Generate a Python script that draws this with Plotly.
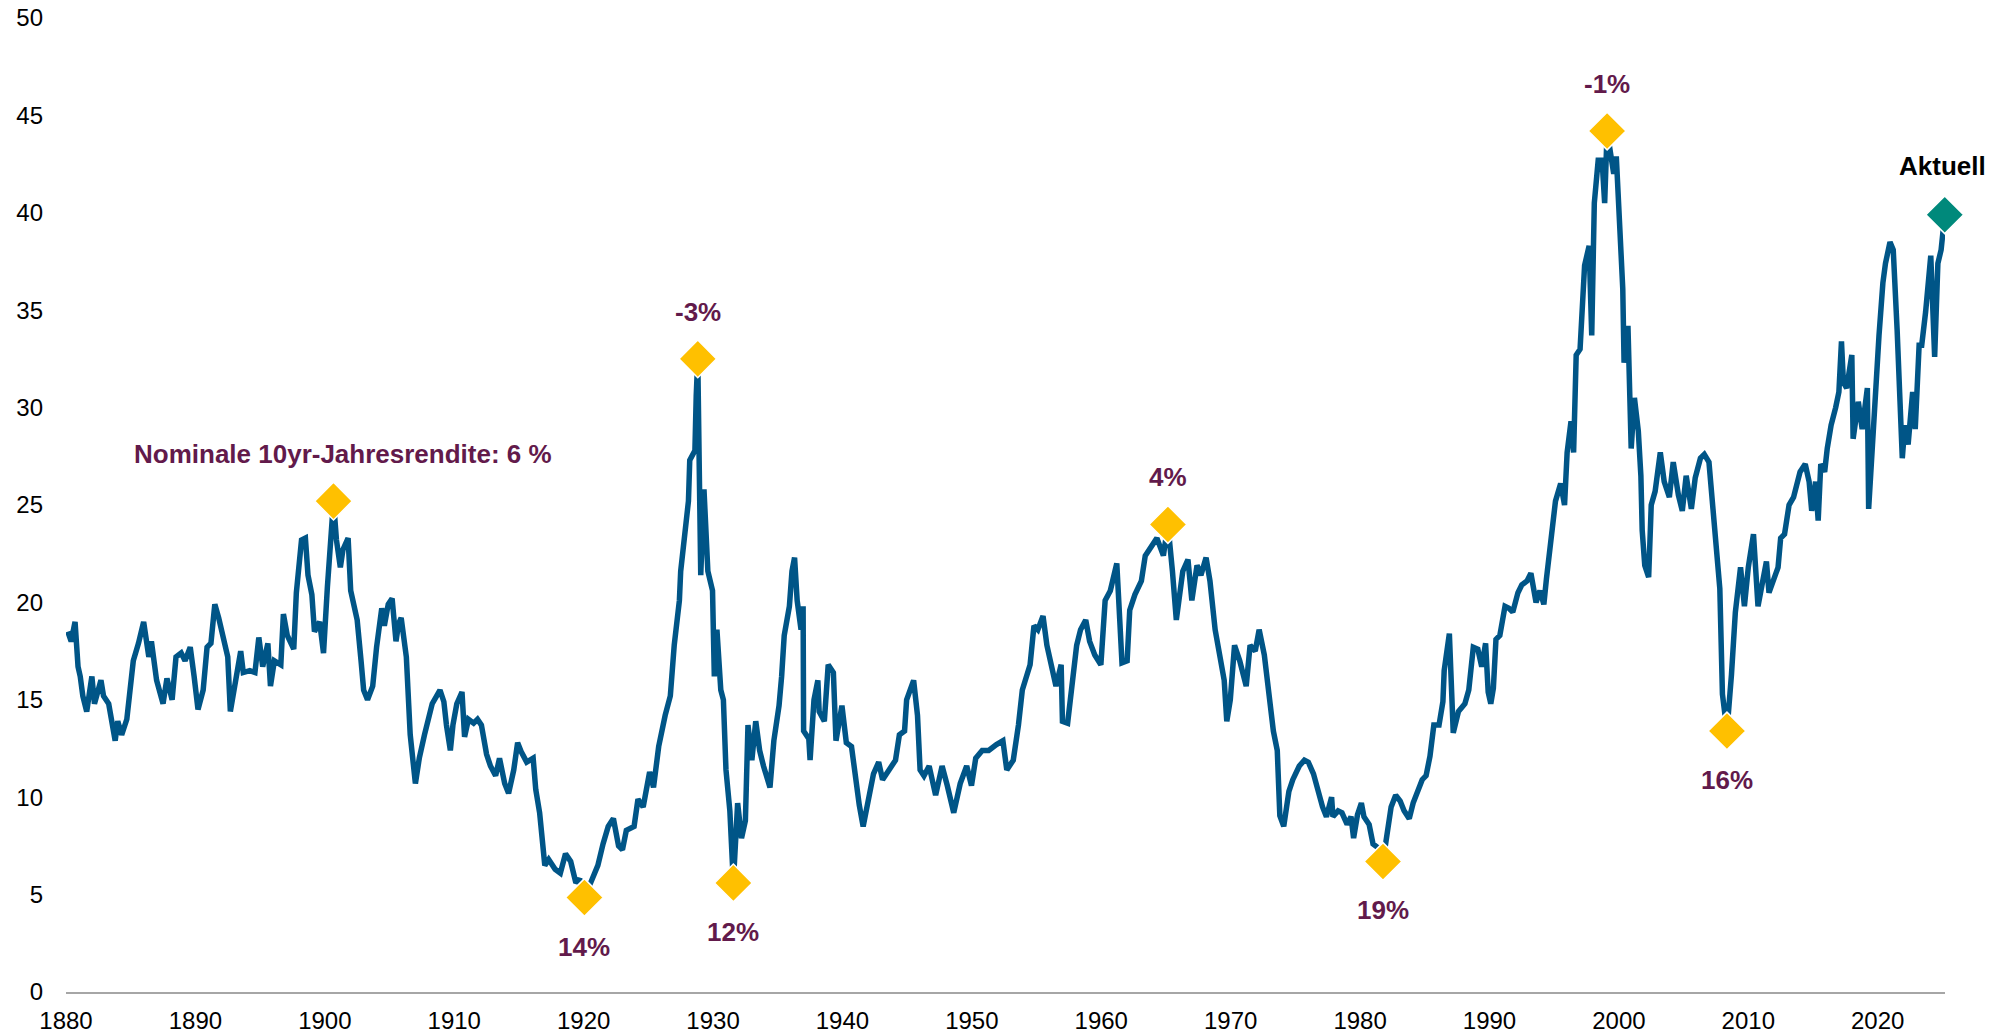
import plotly.graph_objects as go

# Shiller-CAPE-like series (x in chart years)
years = [
    1880.14, 1880.4, 1880.7, 1880.93, 1881.1, 1881.3, 1881.6, 1882.0, 1882.2, 1882.7, 1882.9,
    1883.3, 1883.8, 1884.0, 1884.3, 1884.7, 1884.9, 1885.1, 1885.2, 1885.6, 1886.0, 1886.4,
    1886.6, 1887.0, 1887.5, 1887.8, 1888.2, 1888.5, 1888.9, 1889.2, 1889.6, 1889.9, 1890.2,
    1890.6, 1890.9, 1891.2, 1891.5, 1891.8, 1892.1, 1892.5, 1892.7, 1893.0, 1893.5, 1893.7,
    1894.2, 1894.6, 1894.9, 1895.2, 1895.6, 1895.8, 1896.1, 1896.6, 1896.8, 1897.1, 1897.6,
    1897.8, 1898.2, 1898.5, 1898.7, 1899.0, 1899.2, 1899.6, 1899.9, 1900.2, 1900.4, 1900.67,
    1900.9, 1901.2, 1901.4, 1901.8, 1902.0, 1902.3, 1902.5, 1902.8, 1903.0, 1903.3, 1903.7,
    1904.0, 1904.4, 1904.6, 1904.9, 1905.2, 1905.5, 1905.7, 1905.9, 1906.3, 1906.5, 1906.6,
    1907.0, 1907.3, 1907.7, 1908.0, 1908.3, 1908.9, 1909.2, 1909.4, 1909.7, 1909.9, 1910.2,
    1910.6, 1910.8, 1911.1, 1911.5, 1911.8, 1912.1, 1912.5, 1912.8, 1913.2, 1913.5, 1913.9,
    1914.2, 1914.6, 1914.9, 1915.2, 1915.6, 1916.1, 1916.3, 1916.6, 1917.0, 1917.3, 1917.8,
    1918.2, 1918.6, 1919.0, 1919.4, 1919.7, 1920.06, 1920.6, 1921.1, 1921.5, 1921.9, 1922.3,
    1922.7, 1923.0, 1923.3, 1923.9, 1924.2, 1924.6, 1925.1, 1925.4, 1925.8, 1926.3, 1926.7,
    1927.0, 1927.4, 1927.5, 1927.8, 1928.1, 1928.2, 1928.6, 1928.7, 1928.82, 1929.05, 1929.3,
    1929.6, 1929.96, 1930.1, 1930.3, 1930.6, 1930.8, 1931.0, 1931.3, 1931.57, 1931.9, 1932.2,
    1932.5, 1932.7, 1933.0, 1933.3, 1933.6, 1933.9, 1934.4, 1934.7, 1935.1, 1935.3, 1935.5,
    1935.9, 1936.1, 1936.3, 1936.5, 1936.8, 1936.96, 1937.0, 1937.4, 1937.5, 1937.8, 1938.1,
    1938.2, 1938.6, 1938.9, 1939.3, 1939.5, 1939.96, 1940.3, 1940.7, 1941.0, 1941.3, 1941.6,
    1941.96, 1942.4, 1942.8, 1943.1, 1943.6, 1944.1, 1944.4, 1944.8, 1944.96, 1945.5, 1945.8,
    1946.0, 1946.3, 1946.7, 1947.2, 1947.7, 1948.1, 1948.6, 1949.1, 1949.6, 1949.97, 1950.3,
    1950.8, 1951.3, 1951.9, 1952.4, 1952.7, 1953.2, 1953.6, 1953.9, 1954.5, 1954.8, 1955.1,
    1955.5, 1955.8, 1956.2, 1956.5, 1956.9, 1957.0, 1957.4, 1957.7, 1958.1, 1958.4, 1958.8,
    1959.1, 1959.5, 1959.97, 1960.3, 1960.7, 1961.2, 1961.35, 1961.6, 1962.0, 1962.2, 1962.6,
    1963.1, 1963.4, 1963.9, 1964.3, 1964.8, 1965.15, 1965.5, 1965.8, 1966.0, 1966.3, 1966.7,
    1967.0, 1967.4, 1967.7, 1968.1, 1968.4, 1968.8, 1969.1, 1969.5, 1969.7, 1969.97, 1970.3,
    1970.7, 1971.2, 1971.5, 1971.9, 1972.2, 1972.6, 1972.9, 1973.3, 1973.6, 1973.8, 1974.1,
    1974.5, 1974.8, 1975.3, 1975.7, 1976.0, 1976.4, 1976.7, 1977.1, 1977.4, 1977.8, 1977.9,
    1978.3, 1978.6, 1979.0, 1979.3, 1979.5, 1979.8, 1980.1, 1980.3, 1980.7, 1981.0, 1981.4,
    1981.77, 1982.1, 1982.4, 1982.75, 1983.1, 1983.4, 1983.8, 1984.1, 1984.5, 1984.8, 1985.1,
    1985.4, 1985.7, 1986.1, 1986.4, 1986.5, 1986.9, 1987.0, 1987.2, 1987.6, 1988.1, 1988.4,
    1988.75, 1989.1, 1989.4, 1989.7, 1989.9, 1990.1, 1990.3, 1990.5, 1990.8, 1991.2, 1991.5,
    1991.8, 1992.2, 1992.5, 1992.9, 1993.2, 1993.4, 1993.6, 1993.9, 1994.2, 1994.4, 1994.7,
    1995.1, 1995.5, 1995.8, 1996.0, 1996.3, 1996.5, 1996.7, 1997.0, 1997.35, 1997.7, 1997.9,
    1998.1, 1998.4, 1998.7, 1998.9, 1999.09, 1999.4, 1999.6, 1999.8, 2000.1, 2000.3, 2000.4,
    2000.7, 2000.95, 2001.2, 2001.5, 2001.7, 2001.8, 2002.0, 2002.3, 2002.5, 2002.8, 2003.2,
    2003.5, 2003.9, 2004.2, 2004.6, 2004.9, 2005.2, 2005.6, 2005.9, 2006.3, 2006.6, 2006.96,
    2007.1, 2007.5, 2007.8, 2008.0, 2008.35, 2008.7, 2009.0, 2009.4, 2009.7, 2010.0, 2010.4,
    2010.75, 2011.1, 2011.4, 2011.6, 2011.95, 2012.3, 2012.5, 2012.8, 2013.15, 2013.5, 2014.0,
    2014.4, 2014.7, 2014.9, 2015.2, 2015.4, 2015.6, 2015.9, 2016.1, 2016.4, 2016.75, 2017.0,
    2017.2, 2017.35, 2017.6, 2018.0, 2018.1, 2018.5, 2018.8, 2019.2, 2019.3, 2019.7, 2019.9,
    2020.1, 2020.4, 2020.6, 2020.95, 2021.2, 2021.5, 2021.7, 2021.9, 2022.1, 2022.35, 2022.7,
    2022.9, 2023.2, 2023.4, 2023.7, 2023.97, 2024.1, 2024.4, 2024.65, 2024.9, 2025.05, 2025.18,
]

cape = [
    18.5, 18.0, 19.0, 16.7, 16.2, 15.2, 14.4, 16.2, 14.8, 16.0, 15.2,
    14.8, 12.9, 13.9, 13.2, 14.0, 15.2, 16.7, 17.0, 17.9, 19.0, 17.2,
    18.0, 16.0, 14.8, 16.1, 15.0, 17.2, 17.4, 17.0, 17.7, 16.2, 14.5,
    15.5, 17.7, 17.9, 19.9, 19.2, 18.2, 17.2, 14.4, 15.7, 17.5, 16.4,
    16.5, 16.4, 18.2, 16.7, 17.9, 15.7, 17.0, 16.8, 19.4, 18.3, 17.6,
    20.5, 23.2, 23.3, 21.4, 20.4, 18.5, 19.0, 17.4, 20.8, 23.0, 25.2,
    23.2, 21.8, 22.7, 23.3, 20.6, 19.7, 19.1, 17.0, 15.5, 15.0, 15.7,
    17.7, 19.7, 18.8, 19.9, 20.2, 18.0, 18.9, 19.2, 17.2, 15.1, 13.2,
    10.7, 12.0, 13.2, 14.0, 14.8, 15.5, 14.9, 13.7, 12.4, 13.7, 14.8,
    15.4, 13.1, 14.0, 13.8, 14.0, 13.7, 12.2, 11.6, 11.1, 12.0, 10.7,
    10.2, 11.4, 12.8, 12.3, 11.8, 12.0, 10.4, 9.2, 6.5, 6.8, 6.3,
    6.1, 7.1, 6.7, 5.6, 5.8, 4.85, 5.7, 6.5, 7.6, 8.5, 8.9,
    7.5, 7.3, 8.3, 8.5, 9.9, 9.5, 11.3, 10.5, 12.6, 14.2, 15.2,
    17.8, 20.1, 21.6, 23.4, 25.2, 27.3, 27.8, 30.6, 32.5, 21.4, 25.8,
    21.6, 20.6, 16.2, 18.6, 15.5, 15.0, 11.4, 9.3, 5.6, 9.7, 7.9,
    8.8, 13.7, 11.9, 13.9, 12.4, 11.6, 10.5, 12.9, 14.7, 16.2, 18.3,
    19.8, 21.6, 22.3, 20.1, 18.6, 19.8, 13.4, 13.0, 11.9, 15.0, 16.0,
    14.4, 13.9, 16.8, 16.4, 12.9, 14.7, 12.8, 12.6, 10.9, 9.6, 8.5,
    9.7, 11.2, 11.8, 10.9, 11.4, 11.9, 13.2, 13.4, 15.0, 16.0, 14.2,
    11.4, 11.1, 11.6, 10.1, 11.6, 10.6, 9.2, 10.7, 11.6, 10.6, 12.0,
    12.4, 12.4, 12.7, 12.9, 11.4, 11.9, 13.7, 15.5, 16.8, 18.8, 18.6,
    19.3, 17.8, 16.5, 15.7, 16.8, 13.9, 13.8, 15.7, 17.8, 18.6, 19.1,
    18.0, 17.3, 16.8, 20.1, 20.6, 22.0, 20.1, 16.9, 17.0, 19.6, 20.4,
    21.1, 22.4, 22.9, 23.3, 22.4, 24.0, 21.6, 19.1, 20.1, 21.6, 22.2,
    20.1, 21.9, 21.4, 22.3, 21.1, 18.6, 17.5, 16.0, 13.9, 15.0, 17.8,
    17.0, 15.7, 17.8, 17.5, 18.6, 17.3, 15.5, 13.4, 12.4, 9.05, 8.5,
    10.3, 10.9, 11.6, 11.9, 11.8, 11.2, 10.4, 9.5, 9.0, 10.0, 9.0,
    9.3, 9.2, 8.6, 9.0, 7.9, 9.1, 9.7, 9.0, 8.6, 7.6, 7.4,
    6.7, 8.1, 9.5, 10.1, 9.8, 9.3, 8.9, 9.7, 10.5, 10.9, 11.1,
    12.1, 13.7, 13.7, 14.9, 16.5, 18.4, 15.8, 13.3, 14.4, 14.8, 15.5,
    17.7, 17.6, 16.7, 17.9, 15.4, 14.8, 15.6, 18.1, 18.3, 19.8, 19.7,
    19.5, 20.5, 20.9, 21.1, 21.5, 20.9, 20.0, 20.6, 19.9, 21.2, 23.2,
    25.2, 26.1, 25.0, 27.7, 29.3, 27.7, 32.7, 33.0, 37.3, 38.3, 33.7,
    40.5, 42.7, 42.7, 40.5, 44.2, 42.9, 42.0, 42.9, 38.8, 36.1, 32.3,
    34.2, 27.9, 30.5, 28.8, 26.5, 23.7, 21.9, 21.3, 25.0, 25.7, 27.7,
    26.2, 25.4, 27.2, 25.5, 24.7, 26.5, 24.8, 26.4, 27.4, 27.6, 27.2,
    26.0, 22.6, 20.7, 15.3, 13.4, 16.3, 19.5, 21.8, 19.8, 21.8, 23.5,
    19.8, 21.2, 22.1, 20.5, 21.1, 21.8, 23.3, 23.5, 25.0, 25.4, 26.7,
    27.1, 26.2, 24.7, 26.2, 24.2, 27.1, 26.7, 27.9, 29.1, 30.0, 30.8,
    33.4, 31.3, 31.0, 32.7, 28.4, 30.3, 28.9, 31.0, 24.8, 29.6, 31.3,
    33.7, 36.4, 37.4, 38.5, 38.1, 34.0, 30.8, 27.4, 29.1, 28.1, 30.8,
    28.9, 33.2, 33.2, 34.9, 36.8, 37.8, 32.6, 37.4, 38.1, 39.0, 39.9,
]

# Highlighted extremes: chart year, label, label above (True) / below (False)
hl_years = [1900.67, 1920.06, 1928.82, 1931.57, 1965.15, 1981.77, 1999.09, 2008.35]
hl_labels = ["Nominale 10yr-Jahresrendite: 6 %", "14%", "-3%", "12%", "4%", "19%", "-1%", "16%"]
hl_above = [True, False, True, False, True, False, True, False]
current_label = "Aktuell"

x_ticks = [1880, 1890, 1900, 1910, 1920, 1930, 1940, 1950, 1960, 1970, 1980, 1990, 2000, 2010, 2020]
y_ticks = [0, 5, 10, 15, 20, 25, 30, 35, 40, 45, 50]


def nearest_idx(yr):
    return min(range(len(years)), key=lambda i: abs(years[i] - yr))


hl_idx = [nearest_idx(y) for y in hl_years]
hl_x = [years[i] for i in hl_idx]
hl_y = [cape[i] for i in hl_idx]

LINE = "#005587"
YELLOW = "#FFC000"
GREEN = "#00897B"
LABEL = "#621A4B"
FONT = "Liberation Sans, Arial, sans-serif"

fig = go.Figure()
fig.add_trace(go.Scatter(
    x=years, y=cape, mode="lines",
    line=dict(color=LINE, width=5.5),
    hoverinfo="skip", showlegend=False,
))
fig.add_trace(go.Scatter(
    x=hl_x, y=hl_y, mode="markers",
    marker=dict(symbol="diamond", size=29, color=YELLOW, line=dict(color="white", width=1.5)),
    cliponaxis=False, showlegend=False, hoverinfo="skip",
))
fig.add_trace(go.Scatter(
    x=[years[-1]], y=[cape[-1]], mode="markers",
    marker=dict(symbol="diamond", size=29, color=GREEN, line=dict(color="white", width=1.5)),
    cliponaxis=False, showlegend=False, hoverinfo="skip",
))

for xv, yv, txt, above in zip(hl_x, hl_y, hl_labels, hl_above):
    fig.add_annotation(
        x=xv, y=yv, xref="x", yref="y", text=txt, showarrow=False,
        yshift=47 if above else -49, xshift=10 if len(txt) > 5 else 0,
        font=dict(family=FONT, size=26, color=LABEL, weight="bold"),
        xanchor="center", yanchor="middle",
    )
fig.add_annotation(
    x=years[-1], y=cape[-1], xref="x", yref="y", text=current_label, showarrow=False,
    yshift=49, xshift=-2, font=dict(family=FONT, size=26, color="#000000", weight="bold"),
    xanchor="center", yanchor="middle",
)

fig.update_layout(
    width=1997, height=1035,
    margin=dict(l=66, r=52, t=18, b=43, autoexpand=False),
    paper_bgcolor="white", plot_bgcolor="white",
    font=dict(family=FONT, color="#000000"),
    hovermode=False,
    xaxis=dict(
        range=[1880, 2025.2], tickmode="array", tickvals=x_ticks,
        ticktext=[str(t) for t in x_ticks], automargin=False,
        showgrid=False, zeroline=False, showline=True, linecolor="#A6A6A6", linewidth=2,
        ticks="", tickfont=dict(size=24, color="#000000"), ticklabelstandoff=6,
        ticklabeloverflow="allow",
    ),
    yaxis=dict(
        range=[0, 50], tickmode="array", tickvals=y_ticks, automargin=False,
        showgrid=False, zeroline=False, showline=False,
        ticks="", tickfont=dict(size=24, color="#000000"), ticklabelstandoff=22,
        ticklabeloverflow="allow",
    ),
)

# remove the default page margin so the figure fills the window exactly
fig.write_html(
    "out.html",
    config={"displayModeBar": False},
    post_script="document.body.style.margin='0';document.body.style.overflow='hidden';",
)
